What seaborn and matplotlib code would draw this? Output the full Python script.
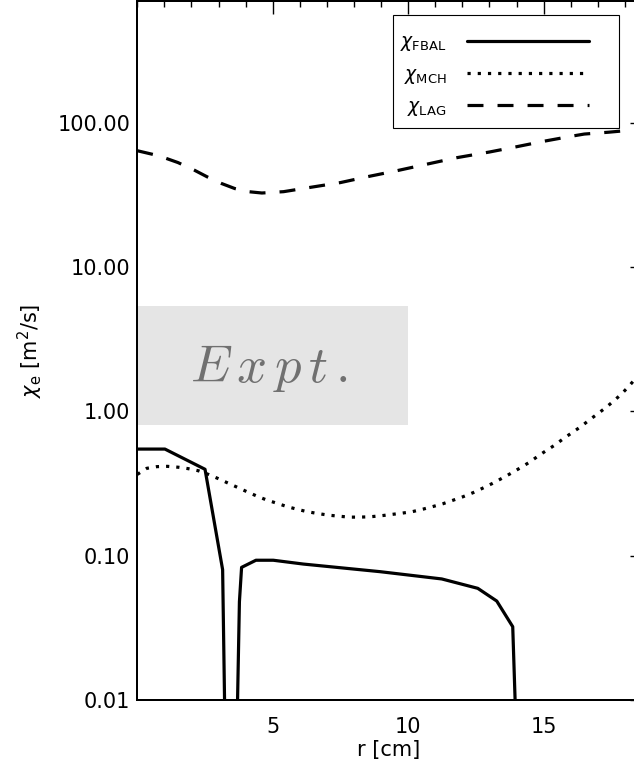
import numpy as np
import pandas as pd
import matplotlib
matplotlib.use("Agg")
import matplotlib.pyplot as plt
import seaborn as sns
from matplotlib.ticker import FixedLocator, FixedFormatter, MultipleLocator, NullFormatter
from matplotlib.patches import Rectangle

# ---------------- data ----------------
r_fbal = [0.0, 1.02, 2.50, 3.15, 3.30, 3.60, 3.77, 3.85, 4.38, 5.02, 6.13,
          8.96, 11.24, 12.57, 13.27, 13.86, 14.12]
chi_fbal = [0.548, 0.548, 0.397, 0.080, 0.001, 0.001, 0.048, 0.083, 0.093,
            0.093, 0.0875, 0.0775, 0.069, 0.0594, 0.0485, 0.0322, 0.001]

r_mch = [0.0, 0.35, 0.72, 1.11, 1.52, 1.88, 2.25, 2.62, 2.99, 3.34, 3.69,
         4.04, 4.41, 4.78, 5.15, 5.52, 5.89, 6.26, 6.66, 7.05, 7.42, 7.82,
         8.20, 8.59, 8.99, 9.38, 9.76, 10.16, 10.54, 10.91, 11.28, 11.65,
         12.02, 12.39, 12.74, 13.10, 13.44, 13.77, 14.11, 14.45, 14.77,
         15.09, 15.42, 15.73, 16.05, 16.37, 16.69, 17.0, 17.31, 17.60,
         17.89, 18.17, 18.5]
chi_mch = [0.366, 0.403, 0.414, 0.416, 0.410, 0.401, 0.388, 0.366, 0.342,
           0.319, 0.298, 0.278, 0.259, 0.243, 0.231, 0.219, 0.210, 0.202,
           0.196, 0.191, 0.188, 0.185, 0.185, 0.186, 0.189, 0.193, 0.197,
           0.202, 0.210, 0.219, 0.229, 0.242, 0.256, 0.273, 0.293, 0.316,
           0.342, 0.370, 0.403, 0.441, 0.486, 0.534, 0.585, 0.647, 0.712,
           0.783, 0.872, 0.964, 1.067, 1.186, 1.327, 1.51, 1.78]

r_lag = [0.0, 0.8, 1.5, 2.1, 2.6, 3.1, 3.6, 4.1, 4.6, 5.4, 6.4, 7.5, 8.5,
         9.6, 10.7, 11.8, 13.0, 14.0, 15.0, 16.0, 16.5, 17.4, 17.9, 18.5]
chi_lag = [64.0, 59.0, 53.0, 47.0, 42.0, 38.0, 35.0, 33.3, 32.6, 33.3,
           35.7, 38.5, 42.3, 46.6, 51.7, 57.3, 62.7, 68.2, 74.4, 80.5,
           83.5, 86.0, 87.7, 89.5]

series_labels = [r"$\chi_{\rm FBAL}$", r"$\chi_{\rm MCH}$", r"$\chi_{\rm LAG}$"]

expt_r = [0.0, 10.0]
expt_lo = [0.8, 0.8]
expt_hi = [5.4, 5.4]
expt_text = r"$E\,x\,p\,t\,.$"

y_ticks = [0.01, 0.1, 1.0, 10.0, 100.0]
y_ticklabels = ["0.01", "0.10", "1.00", "10.00", "100.00"]
x_ticks = [5, 10, 15]
x_ticklabels = ["5", "10", "15"]
x_label = "r [cm]"
y_label = r"$\chi_{\rm e}$ [m$^{2}$/s]"

# ---------------- figure ----------------
sns.set_style("white")
plt.rcParams["font.family"] = ["DejaVu Sans"]
plt.rcParams["mathtext.fontset"] = "dejavusans"
plt.rcParams["text.color"] = "black"
plt.rcParams["axes.labelcolor"] = "black"
plt.rcParams["xtick.color"] = "black"
plt.rcParams["ytick.color"] = "black"

W, H = 634, 771
fig = plt.figure(figsize=(W / 100, H / 100), dpi=100)
ax_l, ax_r, ax_t, ax_b = 137.3, 639.5, 0.8, 700.0
ax = fig.add_axes([ax_l / W, (H - ax_b) / H, (ax_r - ax_l) / W, (ax_b - ax_t) / H])

# experimental band
ax.fill_between(expt_r, expt_lo, expt_hi, color="#e5e5e5", lw=0, zorder=0)
ax.text(4.85, 1.61, expt_text, math_fontfamily="cm", fontsize=38,
        color="#707070", ha="center", va="baseline", zorder=1)

lw = 2.3
df_f = pd.DataFrame({"r": r_fbal, "chi": chi_fbal})
df_m = pd.DataFrame({"r": r_mch, "chi": chi_mch})
df_l = pd.DataFrame({"r": r_lag, "chi": chi_lag})
sns.lineplot(data=df_f, x="r", y="chi", ax=ax, color="black", lw=lw,
             estimator=None, sort=False, label=series_labels[0])
sns.lineplot(data=df_m, x="r", y="chi", ax=ax, color="black", lw=lw,
             estimator=None, sort=False, linestyle=(0, (1.0, 2.2)),
             label=series_labels[1])
sns.lineplot(data=df_l, x="r", y="chi", ax=ax, color="black", lw=lw,
             estimator=None, sort=False, linestyle=(0, (5.0, 4.4)),
             label=series_labels[2])

ax.set_yscale("log")
ax.set_xlim(0, 18.54)
ax.set_ylim(0.01, 700)

ax.yaxis.set_major_locator(FixedLocator(y_ticks))
ax.yaxis.set_major_formatter(FixedFormatter(y_ticklabels))
minor_y = [m * 10.0 ** e for e in range(-2, 3) for m in range(2, 10)]
ax.yaxis.set_minor_locator(FixedLocator(minor_y))
ax.yaxis.set_minor_formatter(NullFormatter())
ax.xaxis.set_major_locator(FixedLocator(x_ticks))
ax.xaxis.set_major_formatter(FixedFormatter(x_ticklabels))
ax.xaxis.set_minor_locator(MultipleLocator(1))

for s in ax.spines.values():
    s.set_linewidth(1.44)
    s.set_color("black")

ax.tick_params(axis="both", which="both", direction="in", top=True,
               right=True, colors="black", width=1.0, labelsize=15)
ax.tick_params(axis="x", which="major", length=9.7, pad=12.5)
ax.tick_params(axis="x", which="minor", length=4.3)
ax.tick_params(axis="y", which="major", length=7.2, pad=5)
ax.tick_params(axis="y", which="minor", length=3.6)

ax.set_xlabel(x_label, fontsize=15, labelpad=2, color="black")
ax.set_ylabel(y_label, fontsize=15, labelpad=9, color="black")

# legend (frame drawn separately to match the box)
leg = ax.legend(loc="upper right", bbox_to_anchor=(0.8995, 0.955),
                frameon=False, markerfirst=False, fontsize=13.5,
                handlelength=6.5, handletextpad=1.1, labelspacing=0.6,
                borderpad=0, borderaxespad=0)
for t in leg.get_texts():
    t.set_color("black")
ax.add_patch(Rectangle(((393 - ax_l) / (ax_r - ax_l), (ax_b - 128) / (ax_b - ax_t)),
                       (619 - 393) / (ax_r - ax_l), (128 - 15) / (ax_b - ax_t),
                       transform=ax.transAxes, fill=False, ec="black", lw=0.8,
                       zorder=5))

fig.savefig("out.png", dpi=100)
